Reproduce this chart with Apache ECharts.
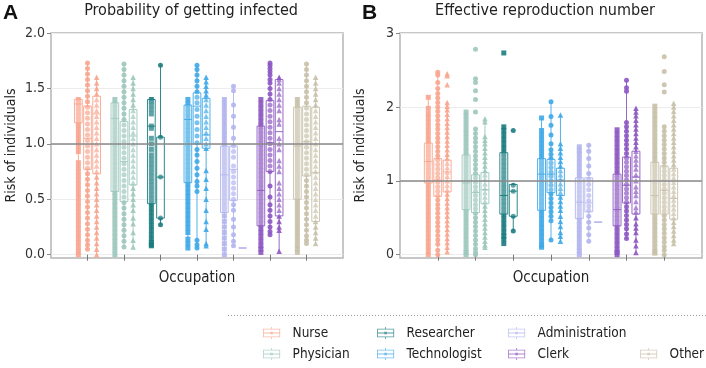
<!DOCTYPE html>
<html>
<head>
<meta charset="utf-8">
<script src="https://cdn.jsdelivr.net/npm/echarts@6/dist/echarts.min.js"></script>
<style>
  html, body { margin: 0; padding: 0; background: #fff; }
  #chart { width: 706px; height: 368px; }
</style>
</head>
<body>
<div id="chart"></div>
<script>
// ---- data ----
const occupations = ['Nurse', 'Physician', 'Researcher', 'Technologist', 'Administration', 'Clerk', 'Other'];
const colors = ['#f8a58e', '#9dc8bd', '#1b7c80', '#3ea9e8', '#b2b5ee', '#8d58c2', '#c8c1aa'];
const groupSymbols = ['rect', 'circle', 'triangle'];
const groupOffsets = [-0.25, 0, 0.25];
const refValue = 1;

// box stats [min, q1, median, q3, max] per occupation; panel A = probability of getting infected
const boxA1 = [[0.00,1.19,1.36,1.40,1.40],[0.00,0.57,1.23,1.37,1.40],[0.08,0.46,1.16,1.40,1.40],[0.06,0.65,1.22,1.35,1.40],[0.00,0.38,0.72,0.98,1.40],[0.02,0.26,0.58,1.16,1.40],[0.02,0.50,0.98,1.33,1.40]];
const boxA2 = [[0.05,0.77,1.05,1.34,1.73],[0.07,0.48,0.84,1.20,1.72],[0.27,0.33,0.70,1.06,1.71],[0.06,1.00,1.34,1.46,1.71],[0.08,0.49,0.77,0.98,1.52],[0.18,0.75,1.01,1.39,1.73],[0.10,0.71,1.02,1.34,1.72]];
const boxA3 = [[0.00,0.73,1.27,1.43,1.60],[0.07,0.63,1.07,1.31,1.60],null,[0.08,0.96,1.08,1.41,1.60],[0.06,0.06,0.06,0.06,0.06],[0.03,0.35,1.11,1.58,1.60],[0.10,0.30,0.74,1.33,1.60]];

// panel B = effective reproduction number
const boxB1 = [[0.00,0.97,1.26,1.51,2.13],[0.00,0.61,0.97,1.35,1.93],[0.15,0.55,0.80,1.38,1.73],[0.10,0.60,1.09,1.30,1.85],[0.00,0.49,0.71,1.04,1.46],[0.00,0.39,0.61,1.09,1.69],[0.02,0.55,0.80,1.25,2.01]];
const boxB2 = [[0.00,0.79,1.01,1.30,2.47],[0.00,0.57,0.84,1.08,1.70],[0.32,0.52,0.86,0.95,0.95],[0.20,0.84,1.09,1.29,2.07],[0.18,0.58,0.70,1.04,1.48],[0.22,0.70,0.94,1.32,2.36],[0.00,0.55,0.87,1.20,1.73]];
const boxB3 = [[0.04,0.85,1.12,1.28,2.06],[0.10,0.69,0.88,1.11,1.84],null,[0.18,0.80,1.01,1.17,1.89],[0.44,0.44,0.44,0.44,0.44],[0.03,0.55,1.05,1.40,1.98],[0.15,0.48,0.76,1.17,2.05]];

// individual points, per occupation
const ptsA1 = [
  [1.40,1.37,1.33,1.29,1.25,1.21,1.17,1.13,1.09,1.05,1.01,0.97,0.93,0.83,0.79,0.75,0.71,0.67,0.63,0.59,0.55,0.51,0.47,0.43,0.39,0.35,0.31,0.27,0.23,0.19,0.15,0.11,0.07,0.03,0.00],
  [1.40,1.36,1.32,1.28,1.24,1.20,1.16,1.12,1.08,1.04,1.00,0.96,0.92,0.88,0.84,0.80,0.76,0.72,0.68,0.64,0.60,0.56,0.52,0.48,0.44,0.40,0.36,0.32,0.28,0.24,0.20,0.16,0.12,0.08,0.04,0.00],
  [1.40,1.38,1.35,1.31,1.27,1.16,1.14,1.05,1.00,0.95,0.90,0.86,0.82,0.78,0.74,0.70,0.66,0.62,0.58,0.54,0.50,0.46,0.42,0.38,0.34,0.30,0.26,0.22,0.18,0.14,0.11,0.09,0.08],
  [1.40,1.36,1.32,1.28,1.24,1.20,1.16,1.12,1.08,1.04,1.00,0.96,0.92,0.88,0.84,0.80,0.76,0.72,0.68,0.64,0.60,0.56,0.52,0.48,0.44,0.40,0.36,0.32,0.28,0.24,0.20,0.14,0.10,0.06],
  [1.40,1.36,1.32,1.28,1.24,1.20,1.16,1.12,1.08,1.04,1.00,0.96,0.92,0.88,0.84,0.80,0.76,0.72,0.68,0.64,0.60,0.56,0.52,0.48,0.44,0.40,0.35,0.30,0.25,0.20,0.15,0.10,0.05,0.00],
  [1.40,1.36,1.32,1.28,1.24,1.20,1.16,1.12,1.08,1.04,1.00,0.96,0.92,0.88,0.84,0.80,0.76,0.72,0.68,0.64,0.60,0.56,0.52,0.48,0.44,0.40,0.36,0.32,0.28,0.24,0.20,0.16,0.12,0.08,0.05,0.02],
  [1.40,1.36,1.32,1.28,1.24,1.20,1.16,1.12,1.08,1.04,1.00,0.96,0.92,0.88,0.84,0.80,0.76,0.72,0.68,0.64,0.60,0.56,0.52,0.48,0.44,0.40,0.36,0.32,0.28,0.24,0.20,0.16,0.12,0.08,0.05,0.02]
];
const ptsA2 = [
  [1.73,1.68,1.63,1.58,1.53,1.48,1.43,1.38,1.33,1.28,1.23,1.18,1.13,1.08,1.03,0.98,0.93,0.88,0.83,0.78,0.73,0.68,0.63,0.58,0.53,0.48,0.43,0.38,0.33,0.28,0.23,0.18,0.13,0.09,0.05],
  [1.72,1.67,1.62,1.57,1.52,1.47,1.42,1.37,1.32,1.27,1.22,1.17,1.12,1.07,1.02,0.97,0.92,0.87,0.82,0.77,0.72,0.67,0.62,0.57,0.52,0.47,0.42,0.37,0.32,0.27,0.22,0.17,0.12,0.07],
  [1.71,1.06,0.70,0.33,0.27],
  [1.71,1.67,1.62,1.57,1.52,1.47,1.42,1.37,1.31,1.25,1.19,1.13,1.07,1.01,0.95,0.90,0.84,0.78,0.72,0.66,0.62,0.57,0.13,0.09,0.06],
  [1.52,1.48,1.35,1.25,1.15,1.05,0.98,0.93,0.88,0.80,0.75,0.70,0.65,0.60,0.55,0.50,0.45,0.40,0.32,0.25,0.18,0.12,0.08],
  [1.73,1.71,1.68,1.65,1.62,1.58,1.55,1.50,1.45,1.40,1.35,1.30,1.25,1.20,1.15,1.10,1.05,1.00,0.95,0.90,0.85,0.80,0.75,0.62,0.52,0.45,0.40,0.35,0.30,0.25,0.21,0.18],
  [1.72,1.67,1.62,1.57,1.52,1.47,1.42,1.37,1.32,1.27,1.22,1.17,1.12,1.07,1.02,0.97,0.92,0.87,0.82,0.77,0.72,0.67,0.62,0.57,0.52,0.47,0.42,0.37,0.32,0.27,0.22,0.17,0.13,0.10]
];
const ptsA3 = [
  [1.60,1.55,1.50,1.45,1.40,1.35,1.30,1.25,1.20,1.15,1.10,1.05,1.00,0.95,0.90,0.85,0.80,0.75,0.70,0.65,0.60,0.55,0.50,0.45,0.40,0.35,0.30,0.25,0.20,0.15,0.10,0.05,0.00],
  [1.60,1.55,1.50,1.45,1.40,1.35,1.30,1.25,1.20,1.15,1.10,1.05,1.00,0.95,0.90,0.85,0.80,0.75,0.70,0.65,0.60,0.55,0.50,0.45,0.40,0.33,0.28,0.20,0.13,0.07],
  [],
  [1.60,1.56,1.52,1.48,1.44,1.40,1.35,1.30,1.25,1.20,1.15,1.10,1.05,1.00,0.96,0.76,0.68,0.60,0.50,0.40,0.30,0.23,0.10,0.08],
  [],
  [1.60,1.58,1.55,1.50,1.45,1.40,1.35,1.30,1.22,1.18,1.05,1.00,0.95,0.85,0.80,0.75,0.65,0.60,0.55,0.50,0.45,0.40,0.35,0.30,0.25,0.22,0.03],
  [1.60,1.55,1.50,1.45,1.40,1.35,1.30,1.25,1.20,1.15,1.10,1.05,1.00,0.95,0.90,0.85,0.80,0.75,0.70,0.65,0.60,0.55,0.50,0.45,0.40,0.35,0.30,0.25,0.20,0.15,0.10]
];
const ptsB1 = [
  [2.13,1.98,1.91,1.85,1.79,1.73,1.67,1.61,1.55,1.49,1.43,1.37,1.31,1.25,1.19,1.13,1.07,1.01,0.95,0.89,0.83,0.77,0.71,0.65,0.59,0.53,0.47,0.41,0.35,0.29,0.23,0.17,0.11,0.05,0.00],
  [1.93,1.88,1.82,1.76,1.70,1.64,1.58,1.52,1.46,1.40,1.34,1.28,1.22,1.16,1.10,1.04,0.98,0.92,0.86,0.80,0.74,0.68,0.62,0.56,0.50,0.44,0.38,0.32,0.26,0.20,0.14,0.08,0.03,0.00],
  [2.73,1.73,1.68,1.62,1.56,1.50,1.44,1.38,1.32,1.26,1.20,1.14,1.08,1.02,0.96,0.90,0.84,0.78,0.72,0.66,0.60,0.54,0.48,0.42,0.36,0.30,0.25,0.21,0.15],
  [1.85,1.68,1.62,1.56,1.50,1.44,1.38,1.32,1.26,1.20,1.14,1.08,1.02,0.96,0.90,0.84,0.78,0.72,0.66,0.60,0.54,0.48,0.42,0.36,0.30,0.24,0.18,0.13,0.10],
  [1.46,1.41,1.36,1.30,1.24,1.18,1.12,1.06,1.00,0.94,0.88,0.82,0.76,0.70,0.64,0.58,0.52,0.46,0.40,0.34,0.28,0.22,0.16,0.10,0.05,0.00],
  [1.69,1.63,1.57,1.51,1.45,1.39,1.33,1.27,1.21,1.15,1.09,1.03,0.97,0.91,0.85,0.79,0.73,0.67,0.61,0.55,0.49,0.43,0.37,0.31,0.25,0.19,0.13,0.07,0.03,0.00],
  [2.01,1.95,1.89,1.83,1.77,1.71,1.65,1.59,1.53,1.47,1.41,1.35,1.29,1.23,1.17,1.11,1.05,0.99,0.93,0.87,0.81,0.75,0.69,0.63,0.57,0.51,0.45,0.39,0.33,0.27,0.21,0.15,0.09,0.04,0.02]
];
const ptsB2 = [
  [2.47,2.43,2.33,2.25,2.18,2.12,2.06,2.00,1.94,1.88,1.82,1.76,1.70,1.64,1.58,1.52,1.46,1.40,1.34,1.28,1.22,1.16,1.10,1.04,0.98,0.92,0.86,0.80,0.74,0.68,0.62,0.56,0.50,0.44,0.38,0.32,0.26,0.20,0.14,0.06,0.00],
  [2.78,2.38,2.33,2.22,2.10,1.93,1.70,1.64,1.58,1.52,1.46,1.40,1.34,1.28,1.22,1.16,1.10,1.04,0.98,0.92,0.86,0.80,0.74,0.68,0.62,0.56,0.50,0.44,0.38,0.32,0.26,0.20,0.14,0.08,0.03,0.00],
  [1.68,0.94,0.86,0.52,0.32],
  [2.07,1.87,1.75,1.62,1.50,1.42,1.36,1.30,1.24,1.18,1.12,1.06,1.00,0.94,0.88,0.82,0.76,0.70,0.64,0.58,0.52,0.46,0.20],
  [1.48,1.40,1.30,1.20,1.10,1.02,0.95,0.88,0.80,0.73,0.66,0.60,0.52,0.44,0.36,0.27,0.18],
  [2.36,2.26,2.21,1.79,1.73,1.67,1.61,1.55,1.49,1.43,1.37,1.31,1.25,1.19,1.13,1.07,1.01,0.95,0.89,0.83,0.77,0.71,0.65,0.59,0.53,0.47,0.41,0.35,0.28,0.22],
  [2.68,2.48,2.30,2.20,1.73,1.67,1.61,1.55,1.49,1.43,1.37,1.31,1.25,1.19,1.13,1.07,1.01,0.95,0.89,0.83,0.77,0.71,0.65,0.59,0.53,0.47,0.41,0.35,0.29,0.23,0.17,0.11,0.06,0.00]
];
const ptsB3 = [
  [2.45,2.42,2.30,2.06,2.01,1.96,1.90,1.84,1.78,1.72,1.66,1.60,1.54,1.48,1.42,1.36,1.30,1.24,1.18,1.12,1.06,1.00,0.94,0.88,0.82,0.76,0.70,0.64,0.58,0.52,0.46,0.40,0.34,0.28,0.22,0.16,0.10,0.04],
  [1.84,1.80,1.60,1.55,1.50,1.44,1.38,1.32,1.26,1.20,1.14,1.08,1.02,0.96,0.90,0.84,0.78,0.72,0.66,0.60,0.54,0.48,0.42,0.36,0.30,0.24,0.18,0.13,0.10],
  [],
  [1.89,1.50,1.44,1.38,1.32,1.26,1.20,1.14,1.08,1.02,0.96,0.90,0.84,0.78,0.72,0.66,0.60,0.52,0.45,0.38,0.30,0.25,0.18],
  [],
  [1.98,1.93,1.88,1.82,1.76,1.70,1.64,1.58,1.52,1.46,1.40,1.34,1.28,1.22,1.16,1.08,1.00,0.92,0.86,0.80,0.72,0.64,0.58,0.50,0.42,0.36,0.30,0.20,0.12,0.03],
  [2.05,2.00,1.94,1.88,1.82,1.76,1.70,1.64,1.58,1.52,1.46,1.40,1.34,1.28,1.22,1.16,1.10,1.04,0.98,0.92,0.86,0.80,0.74,0.68,0.62,0.56,0.50,0.44,0.38,0.32,0.26,0.20,0.15]
];

const ticksA = [0, 0.5, 1, 1.5, 2];
const ticksB = [0, 1, 2, 3];
const catTicks = [1, 2, 3, 4, 5, 6, 7];

// ---- styles ----
const FONT = '"Liberation Sans Narrow", "DejaVu Sans Condensed", "Roboto Condensed", Roboto, sans-serif';
const BOX_W = 0.21;
const legendIcon = 'path://M9.5,0h1v2h-1z M0,2h20v1h-20z M0,11h20v1h-20z M0,2h1v10h-1z M19,2h1v10h-1z M0,6.5h20v1h-20z M8.5,5.5h3v3h-3z M9.5,12h1v2h-1z';

function renderBox(color) {
  return function (params, api) {
    const x = api.value(0);
    const lo = api.coord([x, api.value(1)]);
    const q1 = api.coord([x, api.value(2)]);
    const md = api.coord([x, api.value(3)]);
    const q3 = api.coord([x, api.value(4)]);
    const hi = api.coord([x, api.value(5)]);
    const hw = api.size([BOX_W, 0])[0] / 2;
    const cx = lo[0];
    const ls = { stroke: color, lineWidth: 1, opacity: 0.9 };
    return {
      type: 'group',
      children: [
        { type: 'line', shape: { x1: cx, y1: hi[1], x2: cx, y2: q3[1] }, style: ls },
        { type: 'line', shape: { x1: cx, y1: q1[1], x2: cx, y2: lo[1] }, style: ls },
        { type: 'rect', shape: { x: cx - hw, y: q3[1], width: hw * 2, height: q1[1] - q3[1] },
          style: { fill: 'rgba(255,255,255,0.25)', stroke: color, lineWidth: 1, opacity: 0.9 } },
        { type: 'line', shape: { x1: cx - hw, y1: md[1], x2: cx + hw, y2: md[1] }, style: ls }
      ]
    };
  };
}

function buildSeries(panel, boxes, pts) {
  const out = [];
  occupations.forEach((name, i) => {
    const boxData = [];
    boxes.forEach((g, gi) => {
      if (g[i]) boxData.push([i + 1 + groupOffsets[gi]].concat(g[i]));
    });
    pts.forEach((g, gi) => {
      out.push({
        name, type: 'scatter', xAxisIndex: panel, yAxisIndex: panel,
        symbol: groupSymbols[gi], symbolSize: gi === 2 ? 5.5 : 5,
        itemStyle: { color: colors[i], opacity: 0.9 },
        silent: true, z: 2,
        data: g[i].map(v => [i + 1 + groupOffsets[gi], v])
      });
    });
    out.push({
      name, type: 'custom', xAxisIndex: panel, yAxisIndex: panel,
      renderItem: renderBox(colors[i]), itemStyle: { color: colors[i] },
      silent: true, z: 3, data: boxData
    });
  });
  out.push({
    type: 'line', xAxisIndex: panel, yAxisIndex: panel, data: [], z: 1,
    markLine: { silent: true, symbol: 'none', label: { show: false },
      lineStyle: { color: '#8a8a8a', width: 1.5, type: 'solid' }, data: [{ yAxis: refValue }] }
  });
  return out;
}

function yAxis(idx, max, ticks, fmt) {
  return {
    type: 'value', gridIndex: idx, min: idx === 0 ? -0.03 : -0.045, max,
    name: 'Risk of individuals', nameLocation: 'middle', nameGap: 33,
    nameTextStyle: { fontFamily: FONT, fontSize: 14, color: '#222' },
    axisLine: { show: false },
    axisTick: { show: true, length: 4, customValues: ticks, lineStyle: { color: '#888' } },
    axisLabel: { customValues: ticks, formatter: fmt, fontFamily: FONT, fontSize: 14, color: '#333', margin: 6 },
    splitLine: { show: true, lineStyle: { color: '#ececec', width: 1 } }
  };
}

function xAxis(idx) {
  return {
    type: 'value', gridIndex: idx, min: 0, max: 8,
    name: 'Occupation', nameLocation: 'middle', nameGap: 13,
    nameTextStyle: { fontFamily: FONT, fontSize: 15, color: '#222' },
    axisLine: { show: false },
    axisTick: { show: true, length: 6, customValues: catTicks, lineStyle: { color: '#777' } },
    axisLabel: { show: false },
    splitLine: { show: false }
  };
}

function legendFor(names, left, top) {
  return {
    orient: 'vertical', left, top, padding: 0, itemWidth: 20, itemHeight: 12, itemGap: 7,
    selectedMode: false,
    textStyle: { fontFamily: FONT, fontSize: 13.5, color: '#222', padding: [0, 0, 0, 6] },
    data: names.map(n => ({ name: n, icon: legendIcon,
      itemStyle: { color: colors[occupations.indexOf(n)], opacity: 0.75, borderWidth: 0 } }))
  };
}

const chart = echarts.init(document.getElementById('chart'), null, { renderer: 'canvas' });
chart.setOption({
  animation: false,
  backgroundColor: '#fff',
  grid: [
    { left: 51, top: 33, width: 292, height: 225, show: true, borderColor: '#b5b5b5', borderWidth: 1.5, backgroundColor: 'transparent' },
    { left: 400, top: 33, width: 302, height: 225, show: true, borderColor: '#b5b5b5', borderWidth: 1.5, backgroundColor: 'transparent' }
  ],
  xAxis: [xAxis(0), xAxis(1)],
  yAxis: [
    yAxis(0, 2, ticksA, v => v.toFixed(1)),
    yAxis(1, 3, ticksB, v => String(v))
  ],
  legend: [
    legendFor(['Nurse', 'Physician'], 263, 326),
    legendFor(['Researcher', 'Technologist'], 377, 326),
    legendFor(['Administration', 'Clerk'], 508, 326),
    legendFor(['Other'], 640, 347)
  ],
  graphic: [
    { type: 'text', x: 3, y: 3, style: { text: 'A', font: 'bold 21px "Liberation Sans", Arial, sans-serif', fill: '#111' } },
    { type: 'text', x: 362, y: 3, style: { text: 'B', font: 'bold 21px "Liberation Sans", Arial, sans-serif', fill: '#111' } },
    { type: 'text', x: 191, y: 3, style: { text: 'Probability of getting infected', font: '16px ' + FONT, fill: '#222', textAlign: 'center' } },
    { type: 'text', x: 545, y: 3, style: { text: 'Effective reproduction number', font: '16px ' + FONT, fill: '#222', textAlign: 'center' } },
    { type: 'line', shape: { x1: 228, y1: 315.5, x2: 706, y2: 315.5 }, style: { stroke: '#999', lineWidth: 1, lineDash: [1, 2] } }
  ],
  series: buildSeries(0, [boxA1, boxA2, boxA3], [ptsA1, ptsA2, ptsA3])
    .concat(buildSeries(1, [boxB1, boxB2, boxB3], [ptsB1, ptsB2, ptsB3]))
});
</script>
</body>
</html>
